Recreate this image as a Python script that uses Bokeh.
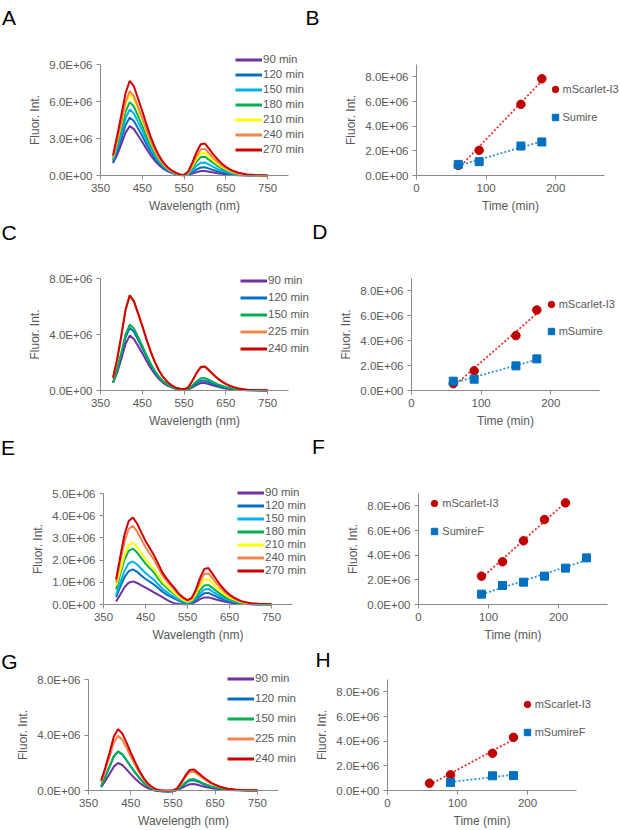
import numpy as np
from bokeh.plotting import figure
from bokeh.layouts import column, row
from bokeh.models import (Range1d, FixedTicker, CustomJSTickFormatter, Legend,
                          LegendItem, Label)
from bokeh.embed import file_html
from bokeh.resources import INLINE

FONT = "Liberation Sans"
TXT = "#595959"
AXC = "#8A8A8A"

# ---------------- data ----------------
wavelength = [380, 390, 400, 410, 420, 430, 440, 450, 460, 470, 480, 490, 500, 510,
              520, 530, 540, 550, 560, 570, 580, 590, 600, 610, 620, 630, 640, 650,
              660, 670, 680, 700, 720, 750]

# Panel A spectra (x 1e6)
a_labels = ["90 min", "120 min", "150 min", "180 min", "210 min", "240 min", "270 min"]
a_90 = [1.00, 1.68, 2.56, 3.48, 4.00, 3.76, 3.24, 2.72, 2.16, 1.64, 1.20, 0.84, 0.56, 0.36, 0.22, 0.12, 0.05, 0.02,
        0.05, 0.15, 0.27, 0.36, 0.37, 0.31, 0.25, 0.19, 0.14, 0.10, 0.07, 0.05, 0.03, 0.01, 0.01, 0.00]
a_120 = [1.10, 1.97, 3.01, 4.09, 4.70, 4.42, 3.81, 3.20, 2.54, 1.93, 1.41, 0.99, 0.66, 0.42, 0.26, 0.14, 0.06, 0.02,
         0.08, 0.27, 0.49, 0.65, 0.67, 0.56, 0.44, 0.34, 0.25, 0.18, 0.13, 0.09, 0.06, 0.02, 0.01, 0.00]
a_150 = [1.25, 2.25, 3.42, 4.65, 5.35, 5.03, 4.33, 3.64, 2.89, 2.19, 1.61, 1.12, 0.75, 0.48, 0.29, 0.16, 0.06, 0.02,
         0.13, 0.43, 0.78, 1.04, 1.06, 0.89, 0.70, 0.54, 0.40, 0.29, 0.21, 0.14, 0.09, 0.04, 0.02, 0.01]
a_180 = [1.35, 2.50, 3.81, 5.18, 5.95, 5.59, 4.82, 4.05, 3.21, 2.44, 1.79, 1.25, 0.83, 0.54, 0.33, 0.18, 0.07, 0.03,
         0.19, 0.62, 1.12, 1.49, 1.52, 1.27, 1.01, 0.78, 0.57, 0.42, 0.29, 0.20, 0.13, 0.05, 0.02, 0.01]
a_210 = [1.45, 2.77, 4.22, 5.74, 6.60, 6.20, 5.35, 4.49, 3.56, 2.71, 1.98, 1.39, 0.92, 0.59, 0.36, 0.20, 0.08, 0.03,
         0.23, 0.75, 1.35, 1.80, 1.84, 1.54, 1.22, 0.94, 0.70, 0.51, 0.36, 0.24, 0.16, 0.07, 0.03, 0.01]
a_240 = [1.50, 2.88, 4.38, 5.96, 6.85, 6.44, 5.55, 4.66, 3.70, 2.81, 2.06, 1.44, 0.96, 0.62, 0.38, 0.21, 0.08, 0.03,
         0.26, 0.88, 1.58, 2.11, 2.16, 1.80, 1.43, 1.10, 0.81, 0.59, 0.42, 0.29, 0.19, 0.08, 0.03, 0.01]
a_270 = [1.63, 3.23, 4.92, 6.68, 7.68, 7.22, 6.22, 5.22, 4.15, 3.15, 2.30, 1.61, 1.08, 0.69, 0.42, 0.23, 0.09, 0.05,
         0.32, 1.06, 1.90, 2.53, 2.59, 2.16, 1.72, 1.32, 0.98, 0.71, 0.50, 0.34, 0.22, 0.09, 0.04, 0.01]

# Panel C spectra
c_labels = ["90 min", "120 min", "150 min", "225 min", "240 min"]
c_90 = [0.55, 1.29, 2.27, 3.33, 3.92, 3.68, 3.18, 2.67, 2.12, 1.61, 1.18, 0.82, 0.55, 0.35, 0.22, 0.12, 0.06, 0.04,
        0.07, 0.22, 0.40, 0.53, 0.54, 0.45, 0.36, 0.28, 0.20, 0.15, 0.10, 0.07, 0.05, 0.02, 0.01, 0.00]
c_120 = [0.60, 1.48, 2.59, 3.80, 4.47, 4.20, 3.62, 3.04, 2.41, 1.83, 1.34, 0.94, 0.63, 0.40, 0.25, 0.13, 0.07, 0.05,
         0.09, 0.29, 0.52, 0.69, 0.71, 0.59, 0.47, 0.36, 0.27, 0.19, 0.14, 0.09, 0.06, 0.03, 0.01, 0.00]
c_150 = [0.55, 1.55, 2.73, 4.00, 4.71, 4.43, 3.82, 3.20, 2.54, 1.93, 1.41, 0.99, 0.66, 0.42, 0.26, 0.14, 0.07, 0.05,
         0.11, 0.36, 0.66, 0.87, 0.89, 0.75, 0.59, 0.46, 0.34, 0.25, 0.17, 0.12, 0.08, 0.03, 0.01, 0.00]
c_225 = [0.90, 2.23, 3.92, 5.74, 6.75, 6.35, 5.47, 4.59, 3.65, 2.77, 2.03, 1.42, 0.95, 0.61, 0.37, 0.20, 0.12, 0.10,
         0.21, 0.69, 1.24, 1.65, 1.69, 1.41, 1.12, 0.86, 0.64, 0.46, 0.33, 0.22, 0.15, 0.06, 0.03, 0.01]
c_240 = [0.92, 2.24, 3.94, 5.78, 6.80, 6.39, 5.51, 4.62, 3.67, 2.79, 2.04, 1.43, 0.95, 0.61, 0.37, 0.20, 0.12, 0.10,
         0.21, 0.70, 1.26, 1.68, 1.72, 1.44, 1.14, 0.88, 0.65, 0.47, 0.33, 0.23, 0.15, 0.06, 0.03, 0.01]

# Panel E spectra
e_labels = ["90 min", "120 min", "150 min", "180 min", "210 min", "240 min", "270 min"]
e_90 = [0.13, 0.45, 0.78, 0.98, 1.04, 0.97, 0.86, 0.76, 0.66, 0.55, 0.44, 0.33, 0.22, 0.12, 0.05, 0.02, 0.01, 0.01,
        0.04, 0.13, 0.24, 0.32, 0.32, 0.27, 0.21, 0.17, 0.12, 0.09, 0.06, 0.04, 0.03, 0.01, 0.00, 0.00]
e_120 = [0.33, 0.80, 1.23, 1.50, 1.58, 1.47, 1.31, 1.15, 1.03, 0.90, 0.74, 0.58, 0.45, 0.35, 0.25, 0.16, 0.09, 0.05,
         0.08, 0.21, 0.38, 0.51, 0.52, 0.43, 0.34, 0.27, 0.20, 0.14, 0.10, 0.07, 0.05, 0.02, 0.01, 0.00]
e_150 = [0.43, 1.00, 1.52, 1.86, 1.94, 1.80, 1.61, 1.42, 1.26, 1.11, 0.91, 0.72, 0.57, 0.44, 0.32, 0.21, 0.12, 0.07,
         0.12, 0.28, 0.51, 0.68, 0.70, 0.58, 0.46, 0.36, 0.26, 0.19, 0.13, 0.09, 0.06, 0.02, 0.01, 0.00]
e_180 = [0.68, 1.39, 2.02, 2.42, 2.52, 2.34, 2.09, 1.84, 1.64, 1.44, 1.18, 0.93, 0.76, 0.60, 0.45, 0.30, 0.18, 0.10,
         0.16, 0.36, 0.65, 0.86, 0.88, 0.74, 0.59, 0.45, 0.33, 0.24, 0.17, 0.12, 0.08, 0.03, 0.01, 0.00]
e_210 = [0.85, 1.53, 2.23, 2.68, 2.79, 2.59, 2.32, 2.04, 1.81, 1.59, 1.31, 1.03, 0.84, 0.67, 0.50, 0.33, 0.20, 0.12,
         0.20, 0.46, 0.84, 1.11, 1.14, 0.95, 0.75, 0.58, 0.43, 0.31, 0.22, 0.15, 0.10, 0.04, 0.02, 0.01]
e_240 = [1.00, 1.95, 2.83, 3.40, 3.54, 3.29, 2.94, 2.58, 2.30, 2.02, 1.66, 1.31, 1.06, 0.85, 0.64, 0.42, 0.27, 0.16,
         0.25, 0.57, 1.03, 1.37, 1.40, 1.17, 0.93, 0.72, 0.53, 0.39, 0.27, 0.19, 0.12, 0.05, 0.02, 0.01]
e_270 = [1.13, 2.16, 3.14, 3.76, 3.92, 3.65, 3.25, 2.86, 2.55, 2.23, 1.84, 1.45, 1.18, 0.94, 0.71, 0.47, 0.31, 0.20,
         0.30, 0.67, 1.20, 1.60, 1.64, 1.37, 1.09, 0.84, 0.62, 0.45, 0.32, 0.22, 0.14, 0.06, 0.03, 0.01]

# Panel G spectra
g_labels = ["90 min", "120 min", "150 min", "225 min", "240 min"]
g_90 = [0.24, 0.70, 1.20, 1.72, 1.98, 1.84, 1.52, 1.18, 0.86, 0.58, 0.35, 0.17, 0.06, -0.02, -0.06, -0.08, -0.08, -0.06,
        0.03, 0.17, 0.33, 0.45, 0.47, 0.39, 0.31, 0.24, 0.18, 0.13, 0.09, 0.06, 0.04, 0.02, 0.01, 0.00]
g_120 = [0.30, 1.00, 1.72, 2.45, 2.80, 2.60, 2.18, 1.73, 1.31, 0.92, 0.58, 0.32, 0.14, 0.03, -0.03, -0.06, -0.07, -0.05,
         0.06, 0.28, 0.53, 0.72, 0.74, 0.62, 0.49, 0.38, 0.28, 0.20, 0.14, 0.10, 0.06, 0.03, 0.01, 0.00]
g_150 = [0.29, 1.02, 1.74, 2.47, 2.82, 2.62, 2.20, 1.75, 1.33, 0.93, 0.59, 0.33, 0.15, 0.04, -0.02, -0.05, -0.06, -0.04,
         0.07, 0.31, 0.59, 0.80, 0.82, 0.69, 0.55, 0.42, 0.31, 0.23, 0.16, 0.11, 0.07, 0.03, 0.01, 0.00]
g_225 = [0.60, 1.50, 2.44, 3.47, 3.94, 3.66, 3.07, 2.44, 1.85, 1.30, 0.83, 0.47, 0.22, 0.07, 0.00, -0.03, -0.03, -0.02,
         0.14, 0.53, 0.98, 1.32, 1.35, 1.13, 0.90, 0.69, 0.51, 0.37, 0.26, 0.18, 0.12, 0.05, 0.02, 0.01]
g_240 = [0.72, 1.68, 2.74, 3.89, 4.42, 4.11, 3.45, 2.74, 2.08, 1.46, 0.93, 0.53, 0.27, 0.09, 0.01, 0.00, 0.00, 0.00,
         0.15, 0.60, 1.10, 1.48, 1.52, 1.27, 1.01, 0.78, 0.57, 0.42, 0.29, 0.20, 0.13, 0.05, 0.02, 0.01]

colors7 = ["#7030A0", "#0070C0", "#00B0F0", "#00B050", "#FFFF00", "#F0844C", "#D00000"]
colors5 = ["#7030A0", "#0070C0", "#00B050", "#F0844C", "#D00000"]

# Time courses (x 1e6)
b_t_red = [60, 90, 150, 180]
b_red = [0.82, 2.04, 5.77, 7.84]
b_t_blue = [60, 90, 150, 180]
b_blue = [0.90, 1.12, 2.39, 2.72]
b_names = ["mScarlet-I3", "Sumire"]

d_t_red = [60, 90, 150, 180]
d_red = [0.55, 1.58, 4.41, 6.47]
d_t_blue = [60, 90, 150, 180]
d_blue = [0.75, 0.91, 1.98, 2.54]
d_names = ["mScarlet-I3", "mSumire"]

f_t_red = [90, 120, 150, 180, 210]
f_red = [2.30, 3.46, 5.16, 6.89, 8.24]
f_t_blue = [90, 120, 150, 180, 210, 240]
f_blue = [0.84, 1.54, 1.81, 2.30, 2.95, 3.78]
f_names = ["mScarlet-I3", "SumireF"]

h_t_red = [60, 90, 150, 180]
h_red = [0.59, 1.27, 3.02, 4.31]
h_t_blue = [90, 150, 180]
h_blue = [0.65, 1.19, 1.21]
h_names = ["mScarlet-I3", "mSumireF"]

# ticks
spec_xticks = [350, 450, 550, 650, 750]
spec_xlabels = ["350", "450", "550", "650", "750"]
time_xticks = [0, 100, 200]
time_xlabels = ["0", "100", "200"]
yt_9 = [0, 3e6, 6e6, 9e6]
yl_9 = ["0.0E+00", "3.0E+06", "6.0E+06", "9.0E+06"]
yt_8 = [0, 4e6, 8e6]
yl_8 = ["0.0E+00", "4.0E+06", "8.0E+06"]
yt_5 = [0, 1e6, 2e6, 3e6, 4e6, 5e6]
yl_5 = ["0.0E+00", "1.0E+06", "2.0E+06", "3.0E+06", "4.0E+06", "5.0E+06"]
yt_t = [0, 2e6, 4e6, 6e6, 8e6]
yl_t = ["0.0E+00", "2.0E+06", "4.0E+06", "6.0E+06", "8.0E+06"]

RED_M = "#C00000"
BLUE_M = "#0070C0"
RED_T = "#E8322E"
BLUE_T = "#2B93DC"


def fmt(ticks, labels):
    return CustomJSTickFormatter(args=dict(tvals=list(map(float, ticks)), tlabs=labels),
                                 code="const i = tvals.indexOf(tick); return i >= 0 ? tlabs[i] : '';")


def base(W, H, frame, xr, yr, xt, xl, yt, yl, xlabel, letter, letter_xy):
    # frame = (left, top, right, bottom) of the plotting box in canvas pixels
    fl, ft, fr, fb = frame
    x0, x1 = xr
    y0, y1 = yr
    kx = (fr - fl) / (x1 - x0)
    ky = (fb - ft) / (y1 - y0)
    X = Range1d(x0 - fl / kx, x0 + (W - fl) / kx)
    Y = Range1d(y0 - (H - fb) / ky, y0 + fb / ky)
    p = figure(width=W, height=H, x_range=X, y_range=Y,
               output_backend="svg", toolbar_location=None,
               min_border=0, min_border_left=0, min_border_right=0,
               min_border_top=0, min_border_bottom=0)
    p.outline_line_color = None
    p.grid.visible = False
    p.xaxis.fixed_location = y0
    p.xaxis.bounds = (x0, x1)
    p.yaxis.fixed_location = x0
    p.yaxis.bounds = (y0, y1)
    p.xaxis.ticker = FixedTicker(ticks=xt)
    p.xaxis.formatter = fmt(xt, xl)
    p.yaxis.ticker = FixedTicker(ticks=yt)
    p.yaxis.formatter = fmt(yt, yl)
    p.xaxis.axis_label = xlabel
    p.yaxis.axis_label = "Fluor. Int."
    for ax in (p.xaxis[0], p.yaxis[0]):
        ax.axis_line_color = AXC
        ax.major_tick_line_color = AXC
        ax.major_tick_out = 4
        ax.major_tick_in = 0
        ax.minor_tick_line_color = None
        ax.major_label_text_font = FONT
        ax.major_label_text_font_size = "11.5px"
        ax.major_label_text_color = TXT
        ax.major_label_standoff = 4
        ax.axis_label_text_font = FONT
        ax.axis_label_text_font_size = "12px"
        ax.axis_label_text_font_style = "normal"
        ax.axis_label_text_color = TXT
        ax.axis_label_standoff = 4
    p.add_layout(Label(x=letter_xy[0], y=letter_xy[1], x_units="screen", y_units="screen",
                       text=letter, text_font=FONT, text_font_size="21px", text_color="black",
                       text_baseline="alphabetic", text_align="left"))
    return p


def spectrum(W, H, frame, ymax, yt, yl, curves, labels, colors, leg_loc, spacing, letter, letter_xy):
    p = base(W, H, frame, (350, 800), (0, ymax * 1e6), spec_xticks, spec_xlabels,
             yt, yl, "Wavelength (nm)", letter, letter_xy)
    wl = np.array(wavelength)
    items = []
    for vals, col, lab in zip(curves, colors, labels):
        y = np.array(vals) * 1e6
        p.line(wl, y, line_color=col, line_width=2)
        proxy = p.line(wl, y, line_color=col, line_width=3, visible=False)
        items.append(LegendItem(label=lab, renderers=[proxy]))
    leg = Legend(items=items, location=leg_loc, orientation="vertical", glyph_width=27,
                 glyph_height=13, label_height=13, label_standoff=1, spacing=spacing,
                 padding=0, margin=0, border_line_color=None, background_fill_alpha=0,
                 inactive_fill_alpha=0,
                 label_text_font=FONT, label_text_font_size="11.5px", label_text_color=TXT)
    p.add_layout(leg)
    return p


def timecourse(W, H, frame, t_red, v_red, t_blue, v_blue, names, leg_loc, spacing, letter, letter_xy):
    p = base(W, H, frame, (0, 270), (0, 9e6), time_xticks, time_xlabels,
             yt_t, yl_t, "Time (min)", letter, letter_xy)
    series = [(t_red, v_red, RED_M, RED_T, "circle", 8.5),
              (t_blue, v_blue, BLUE_M, BLUE_T, "square", 8)]
    for t, v, cm, ct, mk, sz in series:
        t = np.array(t, dtype=float)
        v = np.array(v) * 1e6
        k, c0 = np.polyfit(t, v, 1)
        tt = np.array([t.min(), t.max()])
        p.line(tt, k * tt + c0, line_color=ct, line_width=1.8, line_dash="2 2")
    items = []
    for (t, v, cm, ct, mk, sz), name in zip(series, names):
        y = np.array(v) * 1e6
        p.scatter(t, y, marker=mk, size=sz, fill_color=cm, line_color=cm)
        proxy = p.scatter(t, y, marker=mk, size=6.5, fill_color=cm, line_color=cm, visible=False)
        items.append(LegendItem(label=name, renderers=[proxy]))
    leg = Legend(items=items, location=leg_loc, orientation="vertical", glyph_width=16,
                 glyph_height=16, label_height=16, label_standoff=0, spacing=spacing,
                 padding=0, margin=0, border_line_color=None, background_fill_alpha=0,
                 inactive_fill_alpha=0,
                 label_text_font=FONT, label_text_font_size="11px", label_text_color=TXT)
    p.add_layout(leg)
    return p


pA = spectrum(305, 216, (100, 64, 288, 175), 9, yt_9, yl_9,
              [a_90, a_120, a_150, a_180, a_210, a_240, a_270], a_labels, colors7,
              (235, 60.5), 2, "A", (1.5, 199))
pB = timecourse(315, 216, (111, 64, 299, 175), b_t_red, b_red, b_t_blue, b_blue, b_names,
                (241.5, 91), 12, "B", (0, 199))
pC = spectrum(310, 214, (100, 62, 288, 174), 8, yt_8, yl_8,
              [c_90, c_120, c_150, c_225, c_240], c_labels, colors5,
              (240, 75.5), 4, "C", (1, 198.3))
pD = timecourse(310, 214, (101, 62, 289, 174), d_t_red, d_red, d_t_blue, d_blue, d_names,
                (232.7, 91.3), 11, "D", (1.7, 199.3))
pE = spectrum(310, 214, (103, 63, 292, 174), 5, yt_5, yl_5,
              [e_90, e_120, e_150, e_180, e_210, e_240, e_270], e_labels, colors7,
              (237, 67.5), -1, "E", (0.5, 197.3))
pF = timecourse(310, 214, (108, 63, 297, 174), f_t_red, f_red, f_t_blue, f_blue, f_names,
                (116.3, 105.3), 12, "F", (1.6, 198.3))
pG = spectrum(310, 186, (88, 35, 278, 146), 8, yt_8, yl_8,
              [g_90, g_120, g_150, g_225, g_240], g_labels, colors5,
              (227, 65.2), 7, "G", (0.7, 169.3))
pH = timecourse(310, 186, (77, 35, 266, 146), h_t_red, h_red, h_t_blue, h_blue, h_names,
                (208.7, 90.3), 12, "H", (5, 171))

layout = column(row(pA, pB, spacing=0), row(pC, pD, spacing=0),
                row(pE, pF, spacing=0), row(pG, pH, spacing=0), spacing=0)

open("out.html", "w").write(file_html(layout, INLINE))
